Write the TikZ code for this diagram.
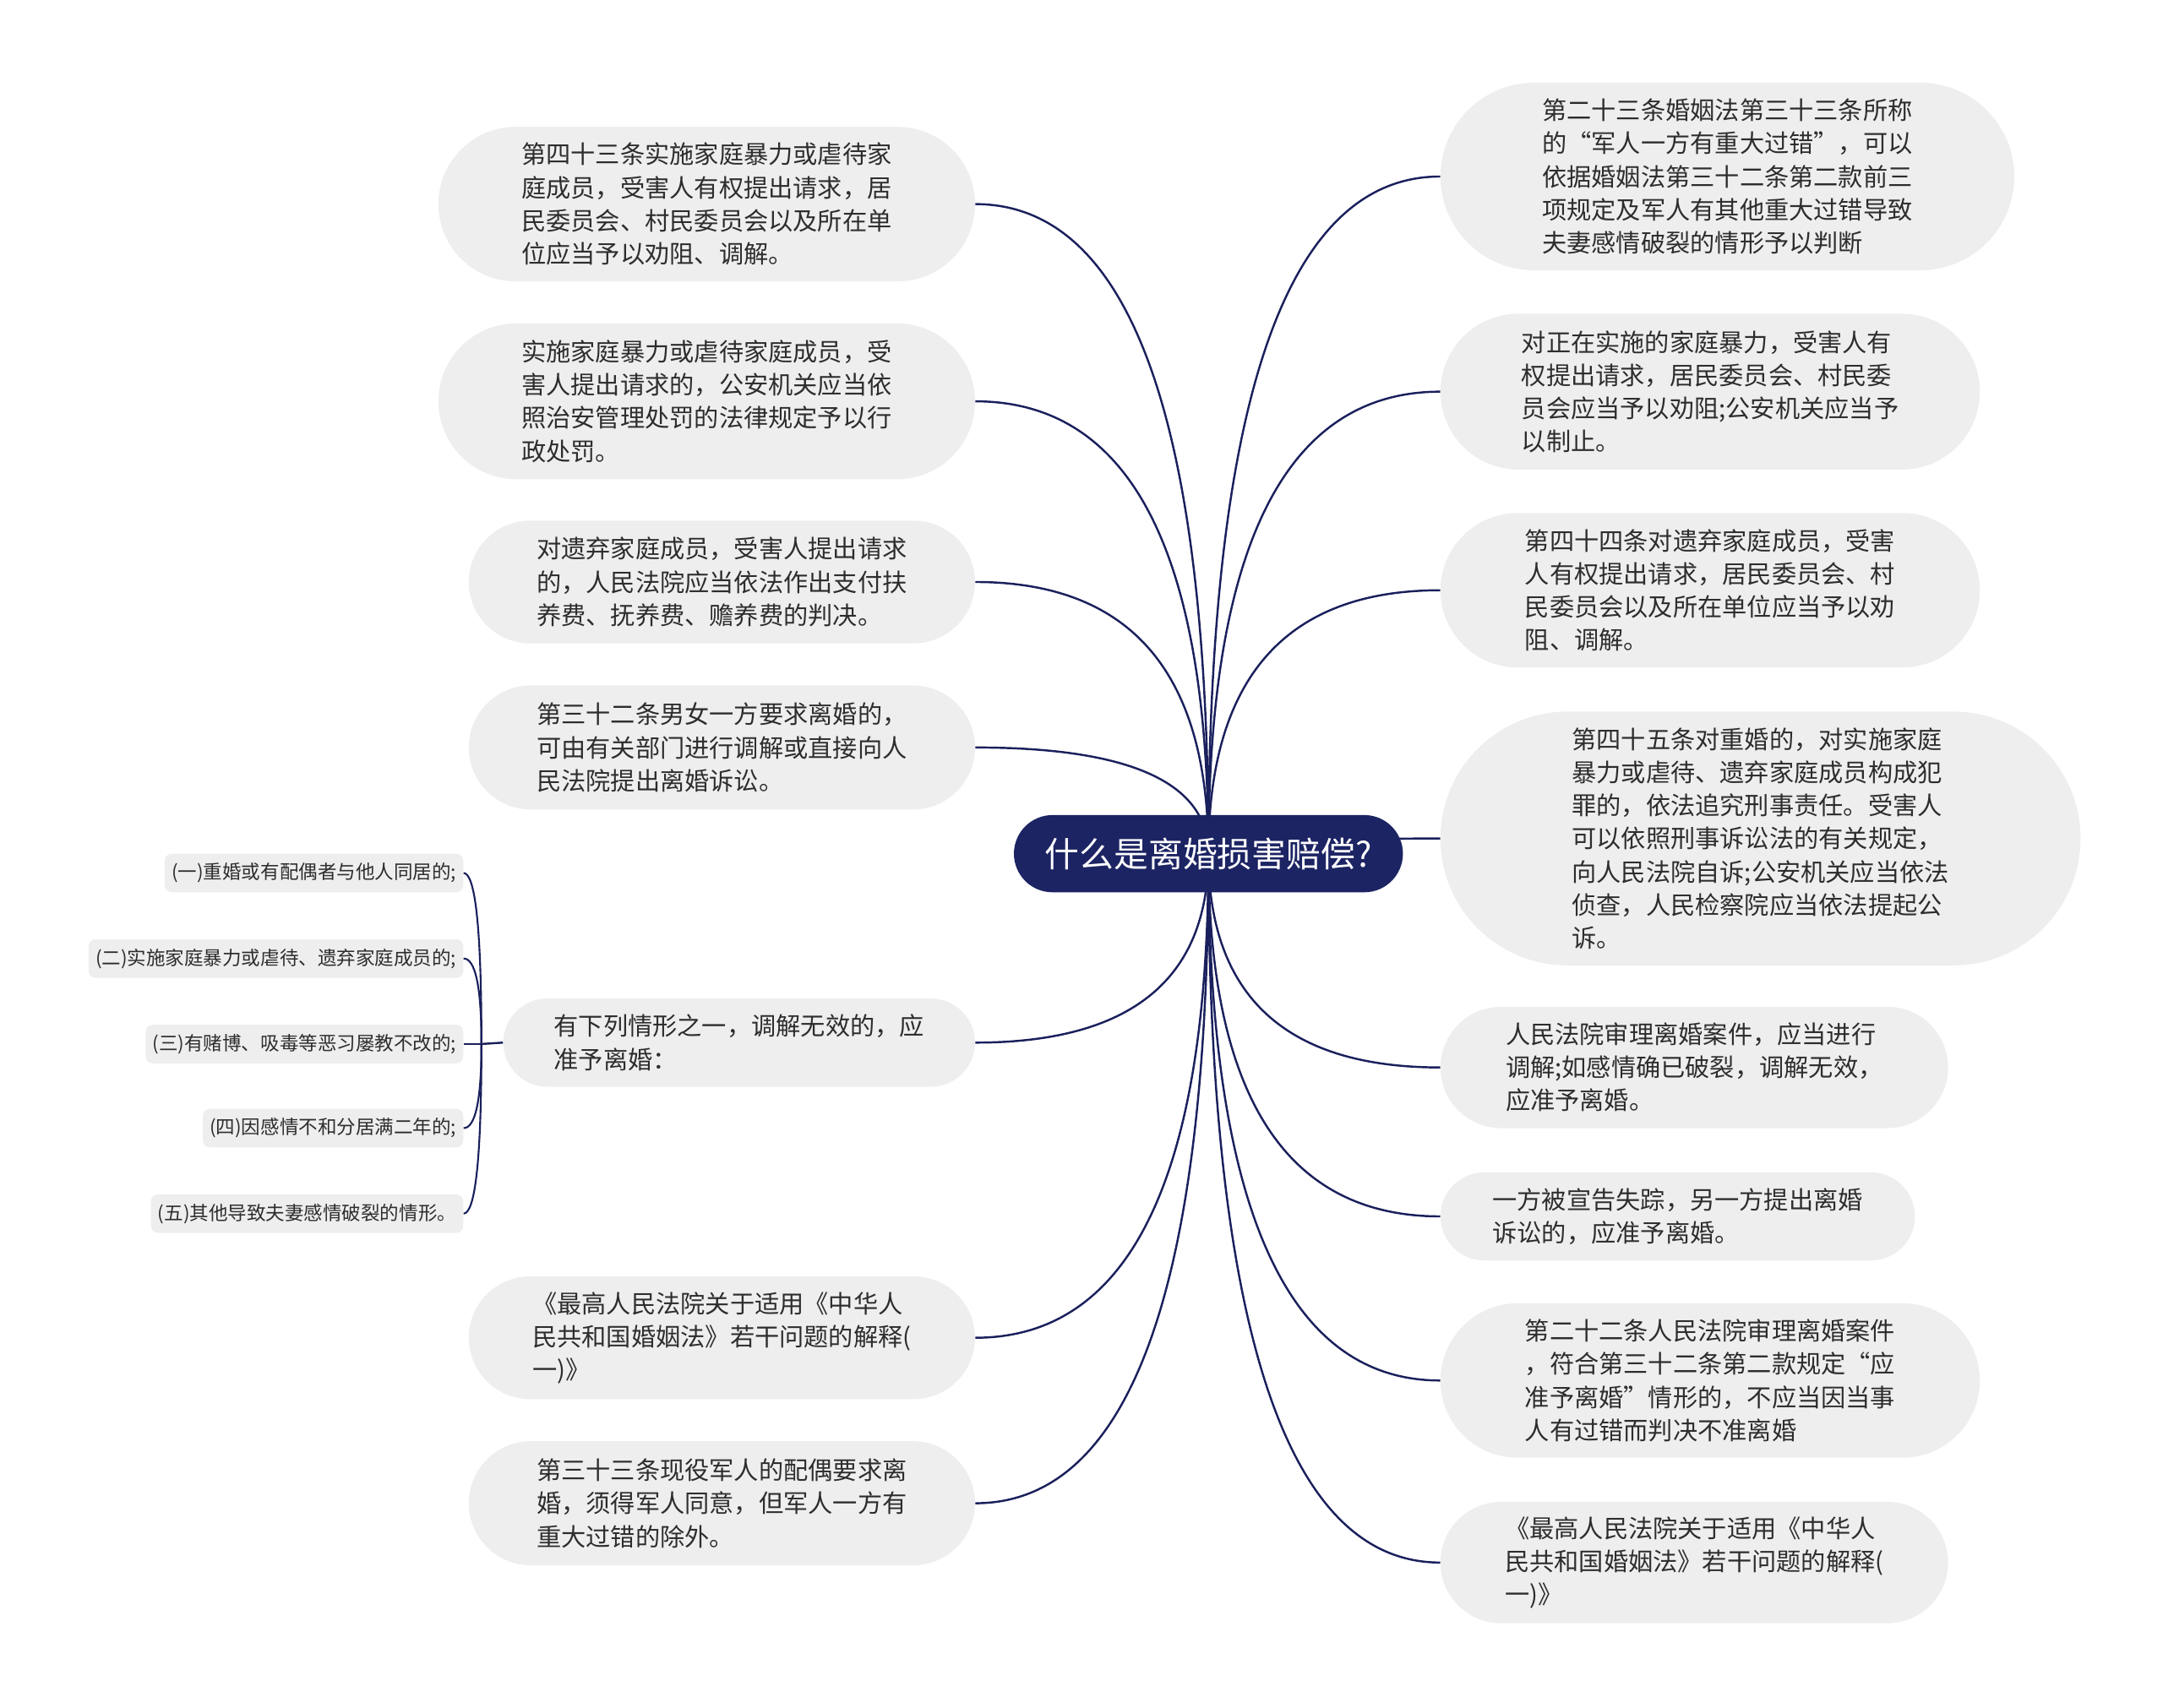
\documentclass[tikz,border=0pt]{standalone}
\usepackage{fontspec}
\setmainfont{Noto Sans CJK SC}
\usepackage{tikz}
\usetikzlibrary{positioning,shapes.misc,calc,backgrounds}
\definecolor{rootcol}{RGB}{28,36,99}
\definecolor{linecol}{RGB}{26,32,92}
\definecolor{leafcol}{RGB}{238,238,238}
\definecolor{txtcol}{RGB}{45,45,45}

\begin{document}
\begin{tikzpicture}[x=1pt, y=-1pt,
  root/.style={rounded rectangle, fill=rootcol, text=white,
               font=\fontsize{25}{30}\selectfont, minimum width=282pt, minimum height=56pt, inner sep=0pt},
  leaf/.style 2 args={rounded rectangle, fill=leafcol, text=txtcol,
               font=\fontsize{17.9}{24}\selectfont, align=left,
               minimum width=#1, minimum height=#2, inner sep=0pt},
  sub/.style={rectangle, rounded corners=5pt, fill=leafcol, text=txtcol,
              font=\fontsize{13.8}{16}\selectfont, minimum height=28pt, inner xsep=5pt, anchor=east},
  ln/.style={draw=linecol, line width=1.5pt}
]
\useasboundingbox (0,0) rectangle (1568,1238);

\node[root] (root) at (876,619) {什么是离婚损害赔偿?};

% left side
\node[leaf={389pt}{112pt}, anchor=east] (l1) at (707,148) {第四十三条实施家庭暴力或虐待家\\庭成员，受害人有权提出请求，居\\民委员会、村民委员会以及所在单\\位应当予以劝阻、调解。};
\node[leaf={389pt}{113pt}, anchor=east] (l2) at (707,291) {实施家庭暴力或虐待家庭成员，受\\害人提出请求的，公安机关应当依\\照治安管理处罚的法律规定予以行\\政处罚。};
\node[leaf={367pt}{89pt}, anchor=east] (l3) at (707,422) {对遗弃家庭成员，受害人提出请求\\的，人民法院应当依法作出支付扶\\养费、抚养费、赡养费的判决。};
\node[leaf={367pt}{90pt}, anchor=east] (l4) at (707,542) {第三十二条男女一方要求离婚的，\\可由有关部门进行调解或直接向人\\民法院提出离婚诉讼。};
\node[leaf={342pt}{64pt}, anchor=east] (l5) at (707,756) {有下列情形之一，调解无效的，应\\准予离婚：};
\node[leaf={367pt}{89pt}, anchor=east] (l6) at (707,970) {《最高人民法院关于适用《中华人\\民共和国婚姻法》若干问题的解释(\\一)》};
\node[leaf={367pt}{90pt}, anchor=east] (l7) at (707,1090) {第三十三条现役军人的配偶要求离\\婚，须得军人同意，但军人一方有\\重大过错的除外。};

% right side
\node[leaf={416pt}{136pt}, anchor=west] (r1) at (1044,128) {第二十三条婚姻法第三十三条所称\\的“军人一方有重大过错”，可以\\依据婚姻法第三十二条第二款前三\\项规定及军人有其他重大过错导致\\夫妻感情破裂的情形予以判断};
\node[leaf={391pt}{113pt}, anchor=west] (r2) at (1044,284) {对正在实施的家庭暴力，受害人有\\权提出请求，居民委员会、村民委\\员会应当予以劝阻;公安机关应当予\\以制止。};
\node[leaf={391pt}{112pt}, anchor=west] (r3) at (1044,428) {第四十四条对遗弃家庭成员，受害\\人有权提出请求，居民委员会、村\\民委员会以及所在单位应当予以劝\\阻、调解。};
\node[leaf={464pt}{184pt}, anchor=west] (r4) at (1044,608) {第四十五条对重婚的，对实施家庭\\暴力或虐待、遗弃家庭成员构成犯\\罪的，依法追究刑事责任。受害人\\可以依照刑事诉讼法的有关规定，\\向人民法院自诉;公安机关应当依法\\侦查，人民检察院应当依法提起公\\诉。};
\node[leaf={368pt}{88pt}, anchor=west] (r5) at (1044,774) {人民法院审理离婚案件，应当进行\\调解;如感情确已破裂，调解无效，\\应准予离婚。};
\node[leaf={344pt}{64pt}, anchor=west] (r6) at (1044,882) {一方被宣告失踪，另一方提出离婚\\诉讼的，应准予离婚。};
\node[leaf={391pt}{112pt}, anchor=west] (r7) at (1044,1001) {第二十二条人民法院审理离婚案件\\，符合第三十二条第二款规定“应\\准予离婚”情形的，不应当因当事\\人有过错而判决不准离婚};
\node[leaf={368pt}{88pt}, anchor=west] (r8) at (1044,1133) {《最高人民法院关于适用《中华人\\民共和国婚姻法》若干问题的解释(\\一)》};

% cases under l5
\coordinate (hub) at (349,757);
\node[sub] (s1) at (336,633) {(一)重婚或有配偶者与他人同居的;};
\node[sub] (s2) at (336,695) {(二)实施家庭暴力或虐待、遗弃家庭成员的;};
\node[sub] (s3) at (336,757) {(三)有赌博、吸毒等恶习屡教不改的;};
\node[sub] (s4) at (336,818) {(四)因感情不和分居满二年的;};
\node[sub] (s5) at (336,880) {(五)其他导致夫妻感情破裂的情形。};

\begin{scope}[on background layer]
\foreach \n in {l1,l2,l3,l4,l5,l6,l7}
  \draw[ln] (root.center) .. controls ($(root.center)!2/3!(root.center |- \n.east)$)
            and ($(\n.east)!2/3!(root.center |- \n.east)$) .. (\n.east);
\foreach \n in {r1,r2,r3,r4,r5,r6,r7,r8}
  \draw[ln] (root.center) .. controls ($(root.center)!2/3!(root.center |- \n.west)$)
            and ($(\n.west)!2/3!(root.center |- \n.west)$) .. (\n.west);
\draw[ln] (l5.west) -- (hub);
\foreach \n in {s1,s2,s3,s4,s5}
  \draw[ln, line width=1.3pt] (hub) .. controls ($(hub)!2/3!(hub |- \n.east)$)
            and ($(\n.east)!2/3!(hub |- \n.east)$) .. (\n.east);
\end{scope}

\end{tikzpicture}
\end{document}
